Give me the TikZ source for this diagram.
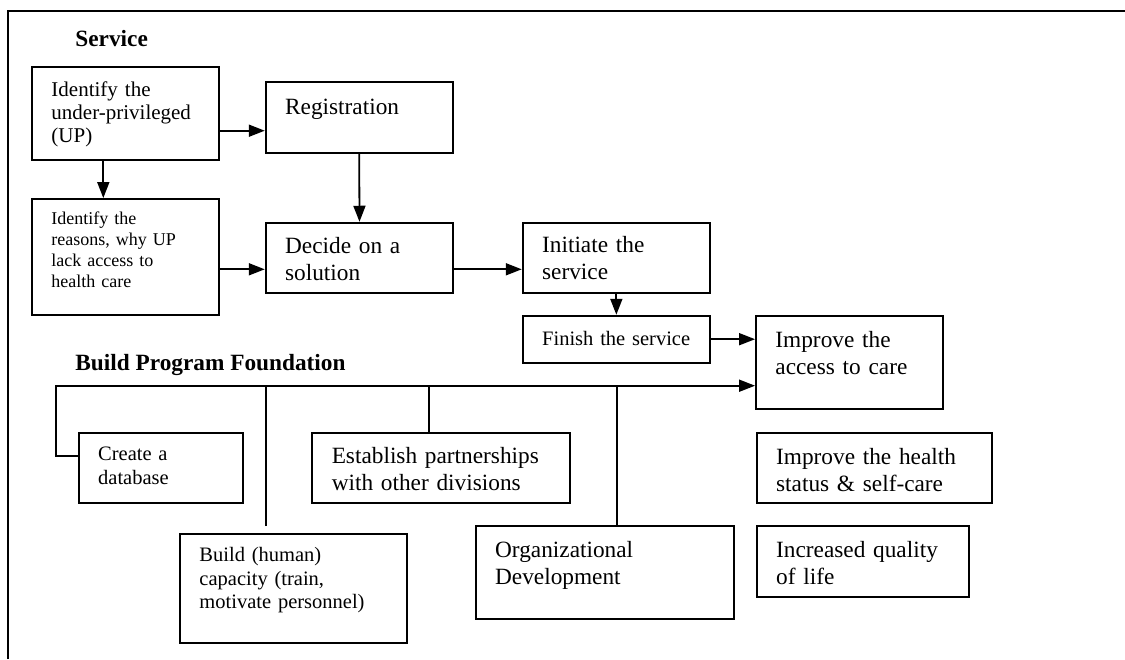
\documentclass[tikz,border=0pt]{standalone}
\usepackage{fontspec}
\setmainfont{Liberation Serif}
\usetikzlibrary{arrows.meta,positioning,fit,calc}

\begin{document}
\begin{tikzpicture}[x=0.5pt, y=-0.5pt,
        box/.style={draw, line width=0.95pt, inner sep=0pt},
        line/.style={line width=0.9pt},
        arr/.style={line width=0.9pt, -{Triangle[length=8pt,width=6pt]}},
        frame/.style={line width=1.1pt},
        head/.style={anchor=base west, inner sep=0pt, font=\bfseries\fontsize{11.65}{13.5}\selectfont},
        bigtxt/.style={anchor=base west, inner sep=0pt, text width=130pt, align=left, font=\fontsize{11.65}{13.5}\selectfont},
        midtxt/.style={anchor=base west, inner sep=0pt, text width=130pt, align=left, font=\fontsize{10.5}{11.65}\selectfont},
        smalltxt/.style={anchor=base west, inner sep=0pt, text width=130pt, align=left, font=\fontsize{10.25}{11.8}\selectfont},
        tinytxt/.style={anchor=base west, inner sep=0pt, text width=130pt, align=left, font=\fontsize{9}{10.5}\selectfont}]

    \useasboundingbox (0,0) rectangle (1125,659);
    \draw[frame] (8,659) -- (8,11) -- (1125,11);

    % service
    \node[head] (svc) at (75,46) {Service};
    \node[box, fit={(32,67) (219,160)}] (up) {};
    \node[midtxt] at ([shift={(20,30.3)}]up.north west) {Identify the\\under-privileged\\(UP)};
    \node[box, fit={(265.7,82.3) (452.7,152.7)}] (reg) {};
    \node[bigtxt] at ([shift={(20,32.7)}]reg.north west) {Registration};
    \node[box, fit={(32,199) (219,315)}] (why) {};
    \node[tinytxt] at ([shift={(20,26.7)}]why.north west) {Identify the\\reasons, why UP\\lack access to\\health care};
    \node[box, fit={(265.7,222.7) (453.3,292.7)}] (dec) {};
    \node[bigtxt] at ([shift={(20,31.3)}]dec.north west) {Decide on a\\solution};
    \node[box, fit={(522.7,222.7) (710,292.7)}] (ini) {};
    \node[bigtxt] at ([shift={(20,30.7)}]ini.north west) {Initiate the\\service};
    \node[box, fit={(522.7,315.7) (710,362.7)}] (fin) {};
    \node[smalltxt] at ([shift={(20,30.3)}]fin.north west) {Finish the service};
    \node[box, fit={(756,316) (943.3,409.3)}] (acc) {};
    \node[bigtxt] at ([shift={(20,32.3)}]acc.north west) {Improve the\\access to care};

    \draw[arr] (up.east |- 0,130.7) -- (reg.west |- 0,130.7);
    \draw[arr] (up.south -| 103.3,0) -- (why.north -| 103.3,0);
    \draw[arr] (reg.south) -- (dec.north);
    \draw[arr] (why.east |- 0,269.3) -- (dec.west |- 0,269.3);
    \draw[arr] (dec.east |- 0,269.3) -- (ini.west |- 0,269.3);
    \draw[arr] (ini.south) -- (fin.north);
    \draw[arr] (fin.east) -- (acc.west |- fin.east);

    % foundation
    \node[head] (bpf) at (75,370) {Build Program Foundation};
    \node[box, fit={(78.7,432.7) (243.3,502.7)}] (db) {};
    \node[smalltxt] at ([shift={(20,29)}]db.north west) {Create a\\database};
    \node[box, fit={(312.3,432.7) (570,502.7)}] (est) {};
    \node[bigtxt] at ([shift={(20,31.7)}]est.north west) {Establish partnerships\\with other divisions};
    \node[box, fit={(756.7,432.7) (992,502.7)}] (hs) {};
    \node[bigtxt] at ([shift={(20,32.3)}]hs.north west) {Improve the health\\status \& self-care};
    \node[box, fit={(180,533.7) (406.7,642.7)}] (cap) {};
    \node[smalltxt] at ([shift={(20,29)}]cap.north west) {Build (human)\\capacity (train,\\motivate personnel)};
    \node[box, fit={(475.7,525.7) (734,619.3)}] (org) {};
    \node[bigtxt] at ([shift={(20,32.6)}]org.north west) {Organizational\\Development};
    \node[box, fit={(756.7,525.7) (969,596.7)}] (qol) {};
    \node[bigtxt] at ([shift={(20,32.6)}]qol.north west) {Increased quality\\of life};

    \coordinate (bus) at (55.7,385.7);
    \coordinate (capend) at (266,526);
    \draw[arr] (db.west |- 0,455.7) -| (bus) -- (acc.west |- bus);
    \draw[line] (capend) -- (capend |- bus);
    \draw[line] (est.north -| 429.3,0) -- (bus -| 429.3,0);
    \draw[line] (org.north -| 617,0) -- (bus -| 617,0);
\end{tikzpicture}
\end{document}
